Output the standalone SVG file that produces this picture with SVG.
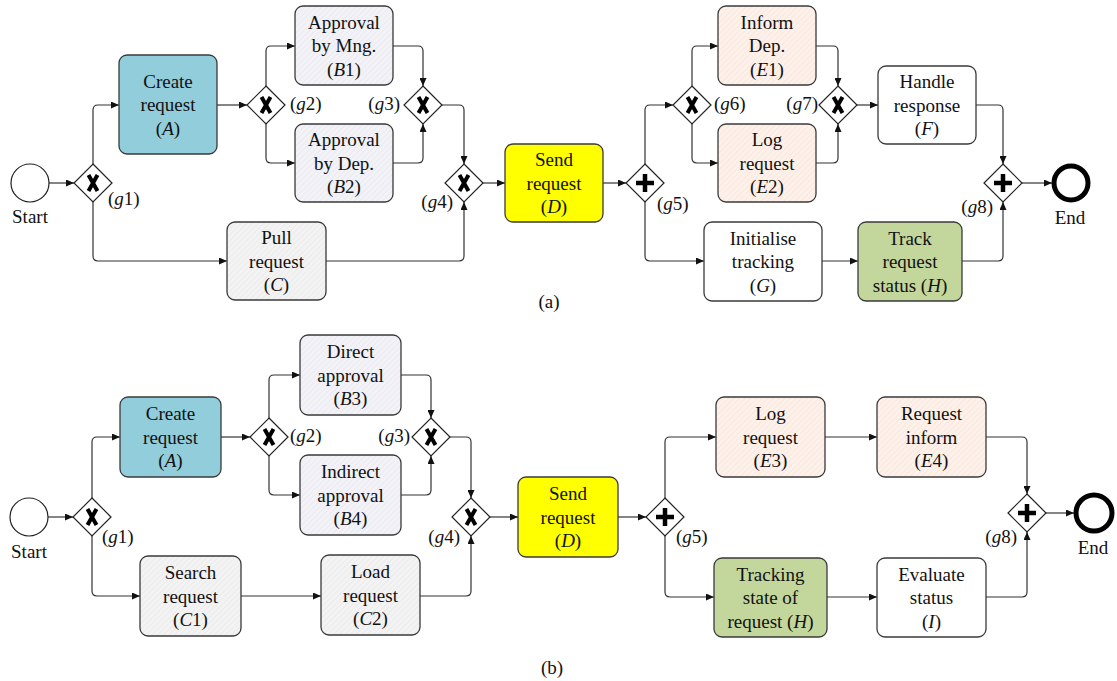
<svg xmlns="http://www.w3.org/2000/svg" width="1117" height="681" viewBox="0 0 1117 681">
<style>
.box{stroke:#3a3a3a;stroke-width:1.3}
.t{font-family:"Liberation Serif","Times New Roman",serif;font-size:19px;fill:#111;text-anchor:middle}
.l{font-family:"Liberation Serif","Times New Roman",serif;font-size:19px;fill:#111}
.e{text-anchor:end}
.i{font-style:italic}
.gw{fill:#fff;stroke:#222;stroke-width:1.2}
.mk{stroke:#000;stroke-width:4;fill:none}
.pl{stroke:#000;stroke-width:4.5;fill:none}
.c{fill:none;stroke:#333;stroke-width:1.2;marker-end:url(#arr)}
.ev{fill:#fff;stroke:#222;stroke-width:1.2}
.end{fill:#fff;stroke:#000;stroke-width:5}
</style>
<defs>
<marker id="arr" markerUnits="userSpaceOnUse" markerWidth="8" markerHeight="7" refX="8" refY="3.5" orient="auto"><path d="M0,0 L8,3.5 L0,7 z" fill="#111"/></marker>
<pattern id="hB" width="4" height="4" patternUnits="userSpaceOnUse" patternTransform="rotate(45)"><rect width="4" height="4" fill="#F2F2F7"/><line x1="0" y1="0" x2="0" y2="4" stroke="#E3E3EB" stroke-width="1"/></pattern>
<pattern id="hE" width="4" height="4" patternUnits="userSpaceOnUse" patternTransform="rotate(45)"><rect width="4" height="4" fill="#FDF1EA"/><line x1="0" y1="0" x2="0" y2="4" stroke="#F4E0D6" stroke-width="1"/></pattern>
<pattern id="hC" width="4" height="4" patternUnits="userSpaceOnUse" patternTransform="rotate(45)"><rect width="4" height="4" fill="#F3F3F3"/><line x1="0" y1="0" x2="0" y2="4" stroke="#E3E3E3" stroke-width="1"/></pattern>
</defs>
<rect width="1117" height="681" fill="#fff"/>

<g id="connectors-a">
<path class="c" d="M49,183 H74"/>
<path class="c" d="M93,164 V110 Q93,105 98,105 H119"/>
<path class="c" d="M93,202 V256 Q93,261 98,261 H227"/>
<path class="c" d="M217,105 H247"/>
<path class="c" d="M266,86 V51 Q266,46 271,46 H295"/>
<path class="c" d="M266,124 V158 Q266,163 271,163 H295"/>
<path class="c" d="M393,46 H418 Q423,46 423,51 V86"/>
<path class="c" d="M393,163 H418 Q423,163 423,158 V124"/>
<path class="c" d="M442,105 H459 Q464,105 464,110 V164"/>
<path class="c" d="M326,261 H459 Q464,261 464,256 V202"/>
<path class="c" d="M483,183 H505"/>
<path class="c" d="M603,183 H626"/>
<path class="c" d="M645,164 V110 Q645,105 650,105 H673"/>
<path class="c" d="M645,202 V256 Q645,261 650,261 H704"/>
<path class="c" d="M692,86 V51 Q692,46 697,46 H718"/>
<path class="c" d="M692,124 V158 Q692,163 697,163 H718"/>
<path class="c" d="M816,46 H833 Q838,46 838,51 V86"/>
<path class="c" d="M816,163 H833 Q838,163 838,158 V124"/>
<path class="c" d="M857,105 H878"/>
<path class="c" d="M976,105 H998 Q1003,105 1003,110 V164"/>
<path class="c" d="M822,261 H858"/>
<path class="c" d="M962,261 H998 Q1003,261 1003,256 V202"/>
<path class="c" d="M1022,183 H1052"/>
</g>

<g id="connectors-b">
<path class="c" d="M48,517 H73"/>
<path class="c" d="M92,498 V442 Q92,437 97,437 H120"/>
<path class="c" d="M92,536 V591 Q92,596 97,596 H140"/>
<path class="c" d="M221,437 H250"/>
<path class="c" d="M269,418 V380 Q269,375 274,375 H300"/>
<path class="c" d="M269,456 V490 Q269,495 274,495 H300"/>
<path class="c" d="M401,375 H426 Q431,375 431,380 V418"/>
<path class="c" d="M401,495 H426 Q431,495 431,490 V456"/>
<path class="c" d="M450,437 H466 Q471,437 471,442 V498"/>
<path class="c" d="M241,596 H321"/>
<path class="c" d="M420,596 H466 Q471,596 471,591 V536"/>
<path class="c" d="M490,517 H518"/>
<path class="c" d="M618,517 H646"/>
<path class="c" d="M665,498 V442 Q665,437 670,437 H716"/>
<path class="c" d="M665,536 V592 Q665,597 670,597 H714"/>
<path class="c" d="M825,437 H877"/>
<path class="c" d="M827,597 H877"/>
<path class="c" d="M986,437 H1022 Q1027,437 1027,442 V494"/>
<path class="c" d="M986,597 H1022 Q1027,597 1027,592 V532"/>
<path class="c" d="M1046,513 H1074"/>
</g>

<!-- (a) -->
<g id="a-start"><circle class="ev" cx="30" cy="183" r="19"/><text class="t" x="30" y="223">Start</text></g>
<g id="a-g1"><path class="gw" d="M93,164 L112,183 L93,202 L74,183 Z"/><path class="mk" d="M88.5,175 L97.5,191 M97.5,175 L88.5,191"/><text class="l" x="108" y="205">(<tspan class="i">g</tspan>1)</text></g>
<g id="a-A"><rect class="box" x="119" y="55" width="98" height="99" rx="8" fill="#92CDDC"/><text class="t"><tspan x="168" y="87.5">Create</tspan><tspan x="168" y="111">request</tspan><tspan x="168" y="134.5">(<tspan class="i">A</tspan>)</tspan></text></g>
<g id="a-g2"><path class="gw" d="M266,86 L285,105 L266,124 L247,105 Z"/><path class="mk" d="M261.5,97 L270.5,113 M270.5,97 L261.5,113"/><text class="l" x="290" y="110">(<tspan class="i">g</tspan>2)</text></g>
<g id="a-B1"><rect class="box" x="295" y="6" width="98" height="79" rx="8" fill="url(#hB)"/><text class="t"><tspan x="344" y="28.5">Approval</tspan><tspan x="344" y="52">by Mng.</tspan><tspan x="344" y="75.5">(<tspan class="i">B</tspan>1)</tspan></text></g>
<g id="a-B2"><rect class="box" x="295" y="124" width="98" height="78" rx="8" fill="url(#hB)"/><text class="t"><tspan x="344" y="146">Approval</tspan><tspan x="344" y="169.5">by Dep.</tspan><tspan x="344" y="193">(<tspan class="i">B</tspan>2)</tspan></text></g>
<g id="a-g3"><path class="gw" d="M423,86 L442,105 L423,124 L404,105 Z"/><path class="mk" d="M418.5,97 L427.5,113 M427.5,97 L418.5,113"/><text class="l e" x="400" y="110">(<tspan class="i">g</tspan>3)</text></g>
<g id="a-C"><rect class="box" x="227" y="222" width="99" height="78" rx="8" fill="url(#hC)"/><text class="t"><tspan x="276.5" y="244">Pull</tspan><tspan x="276.5" y="267.5">request</tspan><tspan x="276.5" y="291">(<tspan class="i">C</tspan>)</tspan></text></g>
<g id="a-g4"><path class="gw" d="M464,164 L483,183 L464,202 L445,183 Z"/><path class="mk" d="M459.5,175 L468.5,191 M468.5,175 L459.5,191"/><text class="l e" x="453" y="208">(<tspan class="i">g</tspan>4)</text></g>
<g id="a-D"><rect class="box" x="505" y="144" width="98" height="78" rx="8" fill="#FFFF00"/><text class="t"><tspan x="554" y="166">Send</tspan><tspan x="554" y="189.5">request</tspan><tspan x="554" y="213">(<tspan class="i">D</tspan>)</tspan></text></g>
<g id="a-g5"><path class="gw" d="M645,164 L664,183 L645,202 L626,183 Z"/><path class="pl" d="M645,174 V192 M636,183 H654"/><text class="l" x="657" y="210">(<tspan class="i">g</tspan>5)</text></g>
<g id="a-g6"><path class="gw" d="M692,86 L711,105 L692,124 L673,105 Z"/><path class="mk" d="M687.5,97 L696.5,113 M696.5,97 L687.5,113"/><text class="l" x="714" y="110">(<tspan class="i">g</tspan>6)</text></g>
<g id="a-E1"><rect class="box" x="718" y="6" width="98" height="79" rx="8" fill="url(#hE)"/><text class="t"><tspan x="767" y="28.5">Inform</tspan><tspan x="767" y="52">Dep.</tspan><tspan x="767" y="75.5">(<tspan class="i">E</tspan>1)</tspan></text></g>
<g id="a-E2"><rect class="box" x="718" y="124" width="98" height="78" rx="8" fill="url(#hE)"/><text class="t"><tspan x="767" y="146">Log</tspan><tspan x="767" y="169.5">request</tspan><tspan x="767" y="193">(<tspan class="i">E</tspan>2)</tspan></text></g>
<g id="a-g7"><path class="gw" d="M838,86 L857,105 L838,124 L819,105 Z"/><path class="mk" d="M833.5,97 L842.5,113 M842.5,97 L833.5,113"/><text class="l e" x="818" y="110">(<tspan class="i">g</tspan>7)</text></g>
<g id="a-F"><rect class="box" x="878" y="66" width="98" height="78" rx="8" fill="#fff"/><text class="t"><tspan x="927" y="88">Handle</tspan><tspan x="927" y="111.5">response</tspan><tspan x="927" y="135">(<tspan class="i">F</tspan>)</tspan></text></g>
<g id="a-G"><rect class="box" x="704" y="222" width="118" height="79" rx="8" fill="#fff"/><text class="t"><tspan x="763" y="244.5">Initialise</tspan><tspan x="763" y="268">tracking</tspan><tspan x="763" y="291.5">(<tspan class="i">G</tspan>)</tspan></text></g>
<g id="a-H"><rect class="box" x="858" y="222" width="104" height="79" rx="8" fill="#C3D69B"/><text class="t"><tspan x="910" y="244.5">Track</tspan><tspan x="910" y="268">request</tspan><tspan x="910" y="291.5">status (<tspan class="i">H</tspan>)</tspan></text></g>
<g id="a-g8"><path class="gw" d="M1003,164 L1022,183 L1003,202 L984,183 Z"/><path class="pl" d="M1003,174 V192 M994,183 H1012"/><text class="l e" x="993" y="213">(<tspan class="i">g</tspan>8)</text></g>
<g id="a-end"><circle class="end" cx="1071" cy="183" r="17"/><text class="t" x="1070" y="224">End</text></g>
<text class="t" x="549" y="308">(a)</text>

<!-- (b) -->
<g id="b-start"><circle class="ev" cx="29" cy="517" r="19"/><text class="t" x="29" y="558">Start</text></g>
<g id="b-g1"><path class="gw" d="M92,498 L111,517 L92,536 L73,517 Z"/><path class="mk" d="M87.5,509 L96.5,525 M96.5,509 L87.5,525"/><text class="l" x="102" y="543">(<tspan class="i">g</tspan>1)</text></g>
<g id="b-A"><rect class="box" x="120" y="397" width="101" height="80" rx="8" fill="#92CDDC"/><text class="t"><tspan x="170.5" y="420">Create</tspan><tspan x="170.5" y="443.5">request</tspan><tspan x="170.5" y="467">(<tspan class="i">A</tspan>)</tspan></text></g>
<g id="b-g2"><path class="gw" d="M269,418 L288,437 L269,456 L250,437 Z"/><path class="mk" d="M264.5,429 L273.5,445 M273.5,429 L264.5,445"/><text class="l" x="290" y="442">(<tspan class="i">g</tspan>2)</text></g>
<g id="b-B3"><rect class="box" x="300" y="335" width="101" height="80" rx="8" fill="url(#hB)"/><text class="t"><tspan x="350.5" y="358">Direct</tspan><tspan x="350.5" y="381.5">approval</tspan><tspan x="350.5" y="405">(<tspan class="i">B</tspan>3)</tspan></text></g>
<g id="b-B4"><rect class="box" x="300" y="455" width="101" height="80" rx="8" fill="url(#hB)"/><text class="t"><tspan x="350.5" y="478">Indirect</tspan><tspan x="350.5" y="501.5">approval</tspan><tspan x="350.5" y="525">(<tspan class="i">B</tspan>4)</tspan></text></g>
<g id="b-g3"><path class="gw" d="M431,418 L450,437 L431,456 L412,437 Z"/><path class="mk" d="M426.5,429 L435.5,445 M435.5,429 L426.5,445"/><text class="l e" x="410" y="442">(<tspan class="i">g</tspan>3)</text></g>
<g id="b-C1"><rect class="box" x="140" y="556" width="101" height="80" rx="8" fill="url(#hC)"/><text class="t"><tspan x="190.5" y="579">Search</tspan><tspan x="190.5" y="602.5">request</tspan><tspan x="190.5" y="626">(<tspan class="i">C</tspan>1)</tspan></text></g>
<g id="b-C2"><rect class="box" x="321" y="555" width="99" height="80" rx="8" fill="url(#hC)"/><text class="t"><tspan x="370.5" y="578">Load</tspan><tspan x="370.5" y="601.5">request</tspan><tspan x="370.5" y="625">(<tspan class="i">C</tspan>2)</tspan></text></g>
<g id="b-g4"><path class="gw" d="M471,498 L490,517 L471,536 L452,517 Z"/><path class="mk" d="M466.5,509 L475.5,525 M475.5,509 L466.5,525"/><text class="l e" x="460" y="543">(<tspan class="i">g</tspan>4)</text></g>
<g id="b-D"><rect class="box" x="518" y="477" width="100" height="80" rx="8" fill="#FFFF00"/><text class="t"><tspan x="568" y="500">Send</tspan><tspan x="568" y="523.5">request</tspan><tspan x="568" y="547">(<tspan class="i">D</tspan>)</tspan></text></g>
<g id="b-g5"><path class="gw" d="M665,498 L684,517 L665,536 L646,517 Z"/><path class="pl" d="M665,508 V526 M656,517 H674"/><text class="l" x="676" y="543">(<tspan class="i">g</tspan>5)</text></g>
<g id="b-E3"><rect class="box" x="716" y="397" width="109" height="80" rx="8" fill="url(#hE)"/><text class="t"><tspan x="770.5" y="420">Log</tspan><tspan x="770.5" y="443.5">request</tspan><tspan x="770.5" y="467">(<tspan class="i">E</tspan>3)</tspan></text></g>
<g id="b-E4"><rect class="box" x="877" y="397" width="109" height="80" rx="8" fill="url(#hE)"/><text class="t"><tspan x="931.5" y="420">Request</tspan><tspan x="931.5" y="443.5">inform</tspan><tspan x="931.5" y="467">(<tspan class="i">E</tspan>4)</tspan></text></g>
<g id="b-H"><rect class="box" x="714" y="558" width="113" height="79" rx="8" fill="#C3D69B"/><text class="t"><tspan x="770.5" y="580.5">Tracking</tspan><tspan x="770.5" y="604">state of</tspan><tspan x="770.5" y="627.5">request (<tspan class="i">H</tspan>)</tspan></text></g>
<g id="b-I"><rect class="box" x="877" y="558" width="109" height="79" rx="8" fill="#fff"/><text class="t"><tspan x="931.5" y="580.5">Evaluate</tspan><tspan x="931.5" y="604">status</tspan><tspan x="931.5" y="627.5">(<tspan class="i">I</tspan>)</tspan></text></g>
<g id="b-g8"><path class="gw" d="M1027,494 L1046,513 L1027,532 L1008,513 Z"/><path class="pl" d="M1027,504 V522 M1018,513 H1036"/><text class="l e" x="1017" y="543">(<tspan class="i">g</tspan>8)</text></g>
<g id="b-end"><circle class="end" cx="1094" cy="513" r="18"/><text class="t" x="1093" y="554">End</text></g>
<text class="t" x="552" y="674">(b)</text>
</svg>
